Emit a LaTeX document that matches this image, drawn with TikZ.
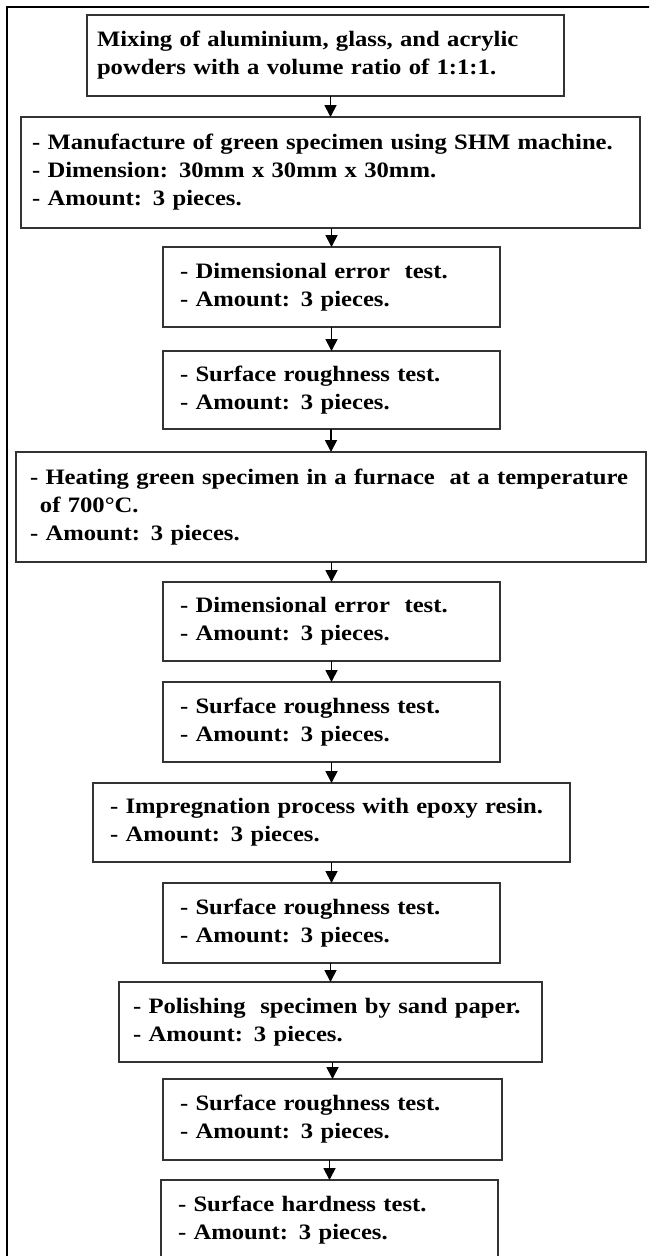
\documentclass[tikz,border=0pt]{standalone}
\usepackage{fontspec}
\setmainfont{Liberation Serif}[FakeStretch=1.12, WordSpace=0.8]
\usepackage{tikz}
\usetikzlibrary{arrows.meta}
\definecolor{boxline}{HTML}{333333}
\tikzset{
  stage/.style={draw=boxline, line width=1.6pt, rectangle, align=left,
    inner xsep=17pt, inner ysep=2pt, outer sep=0pt,
    font={\fontsize{22}{28}\selectfont\bfseries\hyphenpenalty=10000}},
  frame/.style={draw=black, line width=2.4pt},
  flow/.style={-{Triangle[length=12pt,width=12pt]}, draw=black, line width=1.8pt}
}

\begin{document}
\begin{tikzpicture}[x=1pt,y=-1pt]
  \useasboundingbox (0,0) rectangle (649,1256);
  \clip (0,0) rectangle (649,1256);
  \draw[frame] (7,7) rectangle (700,1320);

  % preparation and green specimen
  \node[stage, inner xsep=10pt, text width=457pt, minimum height=81pt] (mix) at (325.5,55.5)
    {Mixing of aluminium, glass, and acrylic\\powders with a volume ratio of 1:1:1.};
  \node[stage, inner xsep=11pt, text width=597pt, minimum height=111pt] (green) at (330.5,172.5)
    {- Manufacture of green specimen using SHM machine.\\- Dimension: 30mm x 30mm x 30mm.\\- Amount: 3 pieces.};
  \node[stage, text width=303pt, minimum height=80pt] (dimA) at (331.5,287)
    {- Dimensional error~ test.\\- Amount: 3 pieces.};
  \node[stage, text width=303pt, minimum height=78pt] (roughA) at (331.5,390)
    {- Surface roughness test.\\- Amount: 3 pieces.};

  % furnace
  \node[stage, inner xsep=14pt, text width=602pt, minimum height=110pt] (heat) at (331,507)
    {- Heating green specimen in a furnace~ at a temperature\\\hspace*{10pt}of 700°C.\\- Amount: 3 pieces.};
  \node[stage, text width=303pt, minimum height=79pt] (dimB) at (331.5,621.5)
    {- Dimensional error~ test.\\- Amount: 3 pieces.};
  \node[stage, text width=303pt, minimum height=80pt] (roughB) at (331.5,722)
    {- Surface roughness test.\\- Amount: 3 pieces.};

  % impregnation and polishing
  \node[stage, text width=443pt, minimum height=79pt] (impreg) at (331.5,822.5)
    {- Impregnation process with epoxy resin.\\- Amount: 3 pieces.};
  \node[stage, text width=303pt, minimum height=80pt] (roughC) at (331.5,923)
    {- Surface roughness test.\\- Amount: 3 pieces.};
  \node[stage, inner xsep=14pt, text width=395pt, minimum height=80pt] (polish) at (330.5,1022)
    {- Polishing~ specimen by sand paper.\\- Amount: 3 pieces.};
  \node[stage, text width=305pt, minimum height=81pt] (roughD) at (332.5,1119.5)
    {- Surface roughness test.\\- Amount: 3 pieces.};
  \node[stage, text width=303pt, minimum height=80pt] (hard) at (329.5,1220)
    {- Surface hardness test.\\- Amount: 3 pieces.};

  \foreach \a/\b in {mix/green, green/dimA, dimA/roughA, roughA/heat, heat/dimB,
      dimB/roughB, roughB/impreg, impreg/roughC, roughC/polish, polish/roughD, roughD/hard}
    \draw[flow] (\b.north |- \a.south) -- (\b.north);
\end{tikzpicture}
\end{document}
